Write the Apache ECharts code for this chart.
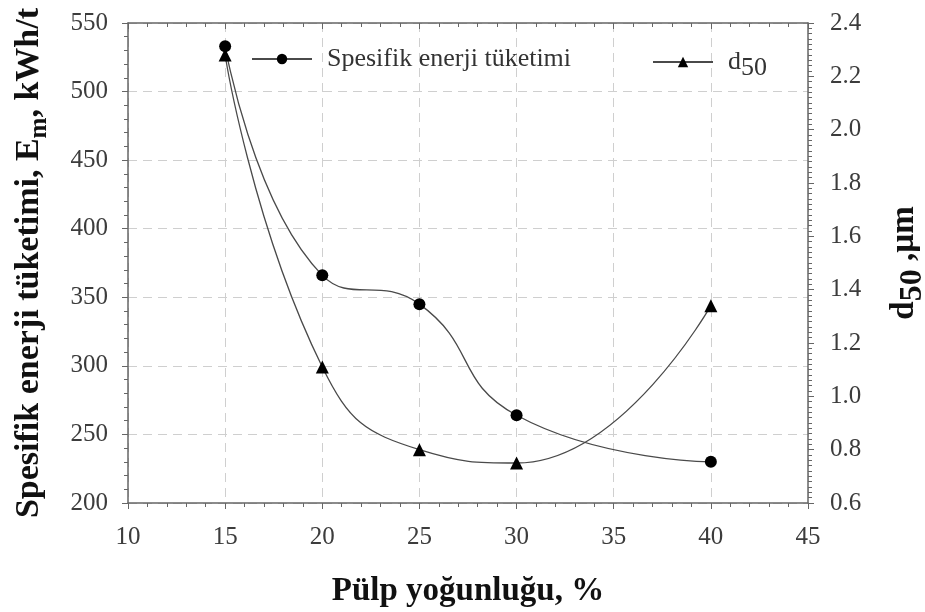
<!DOCTYPE html>
<html>
<head>
<meta charset="utf-8">
<script src="https://cdn.jsdelivr.net/npm/echarts@6/dist/echarts.min.js"></script>
<style>
  html, body { margin: 0; padding: 0; background: #ffffff; }
  #chart { width: 925px; height: 612px; }
</style>
</head>
<body>
<div id="chart"></div>
<script>
// Pulp density (%) on the x axis
const pulpDensity = [15, 20, 25, 30, 40];
// Specific energy consumption, Em (kWh/t) — left axis
const energyValues = [533, 366, 345, 264, 230];
// d50 particle size (µm) — right axis
const d50Values = [2.28, 1.11, 0.80, 0.75, 1.34];

const energyName = 'Spesifik enerji tüketimi';
const d50Name = 'd50';

const serif = '"Liberation Serif", "Times New Roman", serif';
const lineColor = '#4a4a4a';
const axisColor = '#666666';
const gridColor = '#cfcfcf';
const labelColor = '#3c3c3c';

const chart = echarts.init(document.getElementById('chart'), null, { renderer: 'canvas' });

const energyData = pulpDensity.map((x, i) => [x, energyValues[i]]);
const d50Data = pulpDensity.map((x, i) => [x, d50Values[i]]);

const option = {
  backgroundColor: '#ffffff',
  animation: false,
  grid: { left: 128, right: 117, top: 23, bottom: 109, containLabel: false, outerBoundsMode: 'none' },
  legend: [
    {
      data: [energyName],
      left: 246, top: 39,
      itemWidth: 60, itemHeight: 13,
      textStyle: { fontFamily: serif, fontSize: 26, color: '#333', lineHeight: 30, padding: [0, 0, 0, 10] }
    },
    {
      data: [d50Name],
      left: 647, top: 38,
      itemWidth: 60, itemHeight: 13,
      formatter: () => 'd{sub|50}',
      textStyle: {
        fontFamily: serif, fontSize: 26, color: '#333', lineHeight: 30, padding: [0, 0, 0, 10],
        rich: { sub: { fontFamily: serif, fontSize: 26, color: '#333', verticalAlign: 'bottom', lineHeight: 38 } }
      }
    }
  ],
  xAxis: [
    {
      type: 'value', min: 10, max: 45, interval: 5,
      name: 'Pülp yoğunluğu, %', nameLocation: 'middle', nameGap: 72,
      nameTextStyle: { fontFamily: serif, fontSize: 33, fontWeight: 'bold', color: '#111' },
      axisLine: { show: true, onZero: false, lineStyle: { color: axisColor, width: 1.5 } },
      axisTick: { show: true, inside: false, length: 6, lineStyle: { color: axisColor } },
      minorTick: { show: true, splitNumber: 5, length: 4, lineStyle: { color: axisColor } },
      axisLabel: { fontFamily: serif, fontSize: 25, color: labelColor, margin: 22 },
      splitLine: {
        show: true,
        lineStyle: { color: gridColor, type: [9, 6], width: 1 }
      }
    },
    {
      type: 'value', min: 10, max: 45, interval: 5, position: 'top',
      axisLine: { show: true, onZero: false, lineStyle: { color: axisColor, width: 1.5 } },
      axisTick: { show: true, inside: true, length: 6, lineStyle: { color: axisColor } },
      minorTick: { show: true, splitNumber: 5, length: 4, lineStyle: { color: axisColor } },
      axisLabel: { show: false },
      splitLine: { show: false }
    }
  ],
  yAxis: [
    {
      type: 'value', min: 200, max: 550, interval: 50, position: 'left',
      name: 'Spesifik enerji tüketimi, E{sub|m}, kWh/t',
      nameLocation: 'middle', nameGap: 76,
      nameTextStyle: {
        fontFamily: serif, fontSize: 34, fontWeight: 'bold', color: '#111', lineHeight: 40,
        rich: { sub: { fontFamily: serif, fontSize: 25, fontWeight: 'bold', color: '#111', verticalAlign: 'bottom', lineHeight: 46 } }
      },
      axisLine: { show: true, onZero: false, lineStyle: { color: axisColor, width: 1.5 } },
      axisTick: { show: true, inside: false, length: 6, lineStyle: { color: axisColor } },
      minorTick: { show: true, splitNumber: 5, length: 4, lineStyle: { color: axisColor } },
      axisLabel: { fontFamily: serif, fontSize: 25, color: labelColor, margin: 20 },
      splitLine: { show: true, lineStyle: { color: gridColor, type: [9, 6], width: 1 } }
    },
    {
      type: 'value', min: 0.6, max: 2.4, interval: 0.2, position: 'right',
      name: 'd{sub|50} ,µm',
      nameLocation: 'middle', nameGap: 71, nameRotate: 90,
      nameTextStyle: {
        fontFamily: serif, fontSize: 33, fontWeight: 'bold', color: '#111', lineHeight: 40,
        rich: { sub: { fontFamily: serif, fontSize: 32, fontWeight: 'bold', color: '#111', verticalAlign: 'bottom', lineHeight: 50 } }
      },
      axisLine: { show: true, onZero: false, lineStyle: { color: axisColor, width: 1.5 } },
      axisTick: { show: true, inside: false, length: 6, lineStyle: { color: axisColor } },
      minorTick: { show: true, splitNumber: 10, length: 4, lineStyle: { color: axisColor } },
      axisLabel: {
        fontFamily: serif, fontSize: 25, color: labelColor, margin: 22,
        formatter: v => v.toFixed(1)
      },
      splitLine: { show: false }
    }
  ],
  series: [
    {
      name: energyName,
      type: 'line',
      xAxisIndex: 0, yAxisIndex: 0,
      data: energyData,
      smooth: 0.5,
      symbol: 'circle', symbolSize: 12,
      itemStyle: { color: '#000000' },
      lineStyle: { color: lineColor, width: 1.3 },
      z: 3
    },
    {
      name: d50Name,
      type: 'line',
      xAxisIndex: 0, yAxisIndex: 1,
      data: d50Data,
      smooth: 0.5,
      symbol: 'triangle', symbolSize: 13,
      itemStyle: { color: '#000000' },
      lineStyle: { color: lineColor, width: 1.3 },
      z: 3
    }
  ]
};

chart.setOption(option);
</script>
</body>
</html>
